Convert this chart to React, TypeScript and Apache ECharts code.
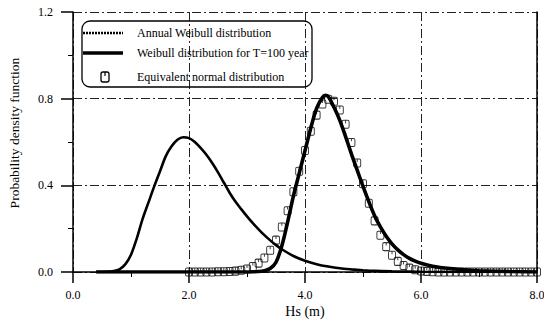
import React, { useEffect, useRef } from "react";
import * as echarts from "echarts";

// Annual Weibull distribution (Hs, pdf)
const annualX = [0.4, 0.6, 0.7, 0.8, 0.9, 1.0, 1.1, 1.2, 1.3, 1.4, 1.5, 1.6, 1.7, 1.8, 1.9, 2.0, 2.1, 2.2, 2.3, 2.4, 2.5, 2.6, 2.7, 2.8, 2.9, 3.0, 3.1, 3.2, 3.3, 3.4, 3.5, 3.6, 3.8, 4.0, 4.2, 4.4, 4.6, 4.8, 5.0, 5.2, 5.5, 6.0, 6.5, 8.0];
const annualY = [0, 0.001, 0.004, 0.012, 0.035, 0.08, 0.155, 0.245, 0.32, 0.395, 0.465, 0.535, 0.58, 0.61, 0.622, 0.618, 0.6, 0.573, 0.541, 0.503, 0.46, 0.413, 0.366, 0.325, 0.29, 0.257, 0.226, 0.197, 0.17, 0.146, 0.124, 0.105, 0.074, 0.052, 0.036, 0.025, 0.017, 0.012, 0.008, 0.005, 0.003, 0.001, 0, 0];

// Weibull distribution for T=100 year
const centX = [0.4, 3.0, 3.2, 3.3, 3.4, 3.5, 3.6, 3.7, 3.8, 3.9, 4.0, 4.1, 4.2, 4.3, 4.35, 4.4, 4.5, 4.6, 4.7, 4.8, 4.9, 5.0, 5.1, 5.2, 5.3, 5.4, 5.5, 5.6, 5.7, 5.8, 5.9, 6.0, 6.2, 6.5, 6.8, 7.0, 7.5, 8.0];
const centY = [0, 0, 0.002, 0.006, 0.016, 0.045, 0.12, 0.23, 0.35, 0.455, 0.56, 0.665, 0.755, 0.805, 0.815, 0.81, 0.76, 0.7, 0.625, 0.545, 0.47, 0.395, 0.325, 0.26, 0.208, 0.165, 0.13, 0.102, 0.08, 0.063, 0.05, 0.04, 0.027, 0.016, 0.009, 0.006, 0.002, 0];

// Equivalent normal distribution (markers)
const normalX = [2.0, 2.1, 2.2, 2.3, 2.4, 2.5, 2.6, 2.7, 2.8, 2.9, 3.0, 3.1, 3.2, 3.3, 3.4, 3.5, 3.6, 3.7, 3.8, 3.9, 4.0, 4.1, 4.2, 4.3, 4.4, 4.5, 4.6, 4.7, 4.8, 4.9, 5.0, 5.1, 5.2, 5.3, 5.4, 5.5, 5.6, 5.7, 5.8, 5.9, 6.0, 6.1, 6.2, 6.3, 6.4, 6.5, 6.6, 6.7, 6.8, 6.9, 7.0, 7.1, 7.2, 7.3, 7.4, 7.5, 7.6, 7.7, 7.8, 7.9, 8.0];
const normalY = [0, 0, 0, 0, 0, 0.001, 0.001, 0.002, 0.004, 0.008, 0.014, 0.025, 0.041, 0.065, 0.1, 0.147, 0.208, 0.283, 0.37, 0.465, 0.561, 0.65, 0.724, 0.775, 0.797, 0.788, 0.748, 0.682, 0.598, 0.503, 0.407, 0.317, 0.236, 0.17, 0.117, 0.077, 0.049, 0.03, 0.018, 0.01, 0.005, 0.003, 0.001, 0, 0, 0, 0, 0, 0, 0, 0, 0, 0, 0, 0, 0, 0, 0, 0, 0, 0];

const xTicks = { min: 0, max: 8, interval: 2 };
const yTicks = { min: 0, max: 1.2, interval: 0.4 };

const seriesNames = [
  "Annual Weibull distribution",
  "Weibull distribution for T=100 year",
  "Equivalent normal distribution",
];

const FONT = "'Liberation Serif', 'Times New Roman', serif";
const DASH = [9, 3, 2, 3];
const MARKER =
  "path://M2,0L8,0Q10,0,10,2L10,9Q10,11,8,11L2,11Q0,11,0,9L0,2Q0,0,2,0ZM5,0L5,4";

const zip = (xs: number[], ys: number[]) => xs.map((x, i) => [x, ys[i]]);

export default function App() {
  const ref = useRef<HTMLDivElement>(null);
  useEffect(() => {
    document.body.style.margin = "0";
    const chart = echarts.init(ref.current!, null, { renderer: "svg" });
    chart.setOption({
      animation: false,
      backgroundColor: "#fff",
      textStyle: { fontFamily: FONT },
      grid: { left: 73, right: 7, top: 12, bottom: 50, containLabel: false, outerBoundsMode: "none" },
      xAxis: {
        type: "value",
        min: xTicks.min,
        max: xTicks.max,
        interval: xTicks.interval,
        name: "Hs (m)",
        nameLocation: "middle",
        nameGap: 32,
        nameMoveOverlap: false,
        nameTextStyle: { fontFamily: FONT, fontSize: 14, color: "#000" },
        axisLine: { onZero: false, lineStyle: { color: "#000", width: 1.5 } },
        axisTick: { show: true, length: 11, inside: false, lineStyle: { color: "#000", width: 1.5 } },
        minorTick: { show: true, splitNumber: 2, length: 5, lineStyle: { color: "#000", width: 1 } },
        axisLabel: {
          margin: 17,
          fontFamily: FONT,
          fontSize: 12,
          color: "#000",
          formatter: (v: number) => v.toFixed(1),
        },
        splitLine: { show: true, lineStyle: { color: "#222", width: 1, type: DASH } },
      },
      yAxis: [
        {
          type: "value",
          min: yTicks.min,
          max: yTicks.max,
          interval: yTicks.interval,
          name: "Probability density function",
          nameLocation: "middle",
          nameGap: 52,
          nameMoveOverlap: false,
          nameTextStyle: { fontFamily: FONT, fontSize: 13.5, color: "#000", padding: [0, 0, 0, 18] },
          axisLine: { lineStyle: { color: "#000", width: 1.5 } },
          axisTick: { show: true, length: 12, lineStyle: { color: "#000", width: 1.5 } },
          minorTick: { show: true, splitNumber: 2, length: 5, lineStyle: { color: "#000", width: 1 } },
          axisLabel: {
            margin: 20,
            fontFamily: FONT,
            fontSize: 12,
            color: "#000",
            formatter: (v: number) => v.toFixed(1),
          },
          splitLine: { show: true, lineStyle: { color: "#222", width: 1, type: DASH } },
        },
        {
          type: "value",
          position: "right",
          min: yTicks.min,
          max: yTicks.max,
          interval: yTicks.interval,
          axisLine: { show: true, lineStyle: { color: "#000", width: 1.5 } },
          axisTick: { show: false },
          axisLabel: { show: false },
          splitLine: { show: false },
        },
      ],
      series: [
        {
          name: seriesNames[0],
          type: "line",
          data: zip(annualX, annualY),
          smooth: 0.3,
          showSymbol: false,
          lineStyle: { color: "#000", width: 2.6 },
          z: 3,
        },
        {
          name: seriesNames[1],
          type: "line",
          data: zip(centX, centY),
          smooth: 0.3,
          showSymbol: false,
          lineStyle: { color: "#000", width: 3.6 },
          z: 4,
        },
        {
          name: seriesNames[2],
          type: "scatter",
          data: zip(normalX, normalY),
          symbol: MARKER,
          symbolSize: [7, 8],
          itemStyle: { color: "rgba(0,0,0,0)", borderColor: "#000", borderWidth: 1 },
          z: 5,
        },
      ],
      graphic: [
        {
          type: "rect",
          shape: { x: 82, y: 21, width: 230, height: 66, r: 8 },
          style: { fill: "none", stroke: "#000", lineWidth: 1.3 },
          z: 10,
        },
        {
          type: "line",
          shape: { x1: 83, y1: 33, x2: 123, y2: 33 },
          style: { stroke: "#000", lineWidth: 2.6, lineDash: [2, 1] },
          z: 10,
        },
        {
          type: "line",
          shape: { x1: 83, y1: 53, x2: 123, y2: 53 },
          style: { stroke: "#000", lineWidth: 3.6 },
          z: 10,
        },
        {
          type: "rect",
          shape: { x: 101, y: 72, width: 8, height: 10, r: 2 },
          style: { fill: "none", stroke: "#000", lineWidth: 1.3 },
          z: 10,
        },
        {
          type: "line",
          shape: { x1: 105, y1: 72, x2: 105, y2: 76 },
          style: { stroke: "#000", lineWidth: 1.2 },
          z: 10,
        },
        {
          type: "text",
          x: 137,
          y: 33,
          style: { text: seriesNames[0], fontFamily: FONT, fontSize: 12, fill: "#000", verticalAlign: "middle" },
          z: 10,
        },
        {
          type: "text",
          x: 137,
          y: 53,
          style: { text: seriesNames[1], fontFamily: FONT, fontSize: 12, fill: "#000", verticalAlign: "middle" },
          z: 10,
        },
        {
          type: "text",
          x: 137,
          y: 77,
          style: { text: seriesNames[2], fontFamily: FONT, fontSize: 12, fill: "#000", verticalAlign: "middle" },
          z: 10,
        },
      ],
    });
    return () => chart.dispose();
  }, []);
  return <div ref={ref} style={{ width: 544, height: 322 }} />;
}
